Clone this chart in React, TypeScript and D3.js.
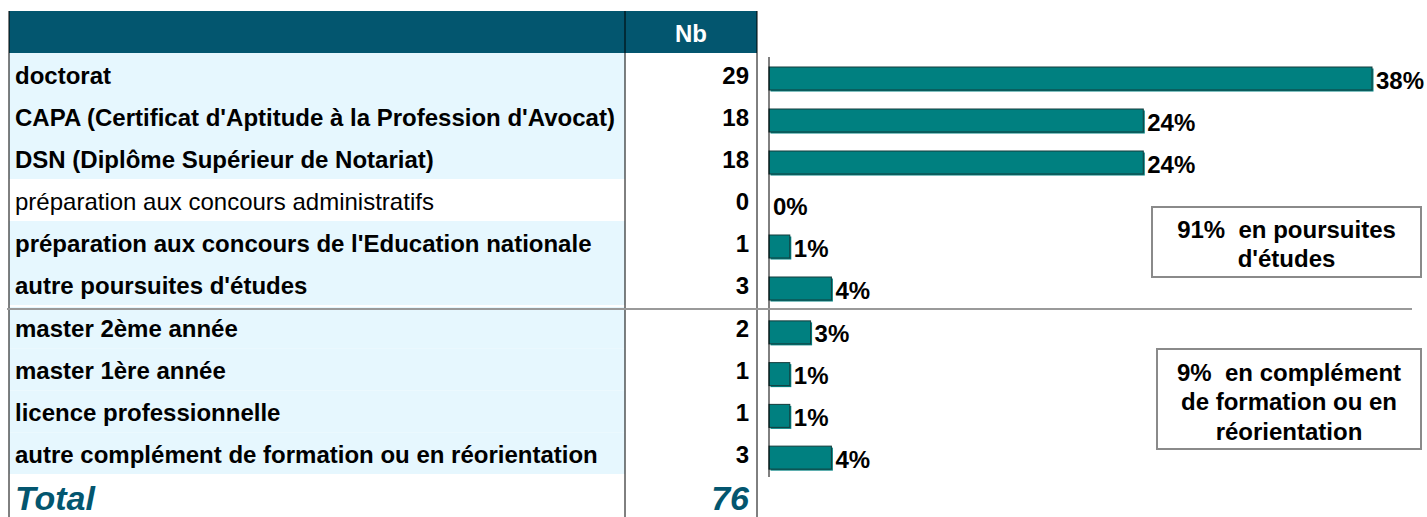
import React from "react";
import * as d3 from "d3";

const categories: string[] = [
  "doctorat",
  "CAPA (Certificat d'Aptitude à la Profession d'Avocat)",
  "DSN (Diplôme Supérieur de Notariat)",
  "préparation aux concours administratifs",
  "préparation aux concours de l'Education nationale",
  "autre poursuites d'études",
  "master 2ème année",
  "master 1ère année",
  "licence professionnelle",
  "autre complément de formation ou en réorientation",
];
const counts: number[] = [29, 18, 18, 0, 1, 3, 2, 1, 1, 3];
const groupOf: number[] = [0, 0, 0, 0, 0, 0, 1, 1, 1, 1];
const boldRow: boolean[] = [true, true, true, false, true, true, true, true, true, true];
const totalLabel = "Total";
const headerLabel = "Nb";
const groupNotes: string[][] = [
  ["91%  en poursuites", "d'études"],
  ["9%  en complément", "de formation ou en", "réorientation"],
];

const W = 1427;
const H = 517;
const FONT = "'Liberation Sans', Arial, sans-serif";
const HEADER = "#03566F";
const LIGHT = "#E6F7FE";
const TEAL = "#008080";
const FS = 24;

export default function App() {
  const total = d3.sum(counts);
  const g0 = categories.map((c, i) => i).filter((i) => groupOf[i] === 0);
  const g1 = categories.map((c, i) => i).filter((i) => groupOf[i] === 1);

  const y0 = d3.scaleBand<number>().domain(g0).range([53, 305]).padding(0);
  const y1 = d3.scaleBand<number>().domain(g1).range([307, 474]).padding(0);
  const yb = (i: number) => (groupOf[i] === 0 ? y0(i)! : y1(i)!);
  const bw = (i: number) => (groupOf[i] === 0 ? y0.bandwidth() : y1.bandwidth());

  const x = d3.scaleLinear().domain([0, 29]).range([769, 1372]);
  const pct = d3.format(".0%");

  const xLeft = 9;
  const xDiv = 625;
  const xRight = 757;

  return (
    <svg width={W} height={H} style={{ position: "absolute", left: 0, top: 0 }} fontFamily={FONT}>
      {/* header */}
      <rect x={xLeft} y={11} width={xRight - xLeft} height={42} fill={HEADER} />
      <text x={(xDiv + xRight) / 2} y={33} fill="#fff" fontWeight="bold" fontSize={FS} textAnchor="middle" dominantBaseline="central">
        {headerLabel}
      </text>

      {/* row backgrounds and labels */}
      {categories.map((c, i) => {
        const top = yb(i);
        const h = bw(i);
        const cy = top + h / 2;
        return (
          <g key={c}>
            {boldRow[i] && <rect x={xLeft} y={top} width={xDiv - xLeft} height={h} fill={LIGHT} />}
            <text x={15} y={cy + 1} fontSize={FS} fontWeight={boldRow[i] ? "bold" : "normal"} dominantBaseline="central" fill="#000">
              {c}
            </text>
            <text x={749} y={cy + 1} fontSize={FS} fontWeight="bold" textAnchor="end" dominantBaseline="central" fill="#000">
              {counts[i]}
            </text>
            {counts[i] > 0 && (
              <>
                <rect x={x(0) + 1.5} y={cy + 4.5 - 11.5 + 1.5} width={x(counts[i]) - x(0)} height={23} fill={TEAL} />
                <rect x={x(0)} y={cy + 4.5 - 11.5} width={x(counts[i]) - x(0)} height={23} fill={TEAL} stroke="#143c3c" strokeWidth={1} />
              </>
            )}
            <text x={x(counts[i]) + 4} y={cy + 6} fontSize={FS} fontWeight="bold" dominantBaseline="central" fill="#000">
              {pct(counts[i] / total)}
            </text>
          </g>
        );
      })}

      {/* total row */}
      <text x={15} y={498} fontSize={34} fontWeight="bold" fontStyle="italic" fill={HEADER} dominantBaseline="central">
        {totalLabel}
      </text>
      <text x={749} y={498} fontSize={34} fontWeight="bold" fontStyle="italic" fill={HEADER} textAnchor="end" dominantBaseline="central">
        {total}
      </text>

      {/* table verticals */}
      <line x1={xLeft} x2={xLeft} y1={11} y2={H} stroke="#000" strokeWidth={1} />
      <line x1={xDiv} x2={xDiv} y1={11} y2={H} stroke="#000" strokeWidth={1} />
      <line x1={xRight} x2={xRight} y1={11} y2={H} stroke="#000" strokeWidth={1} />

      {/* axis line */}
      <line x1={x(0)} x2={x(0)} y1={57} y2={477} stroke="#000" strokeWidth={1} />

      {/* separator */}
      <line x1={7} x2={1412} y1={309} y2={309} stroke="#9a9a9a" strokeWidth={2} />

      {/* notes */}
      {[
        { x: 1152, y: 207, w: 269, h: 70, lines: groupNotes[0], first: 229 },
        { x: 1157, y: 349, w: 264, h: 100, lines: groupNotes[1], first: 372 },
      ].map((b, k) => (
        <g key={k}>
          <rect x={b.x} y={b.y} width={b.w} height={b.h} fill="#fff" stroke="#8a8a8a" strokeWidth={2} />
          {b.lines.map((l, j) => (
            <text key={j} x={b.x + b.w / 2} y={b.first + j * 29.5} fontSize={FS} fontWeight="bold" textAnchor="middle" dominantBaseline="central" fill="#000" style={{ whiteSpace: "pre" }}>
              {l}
            </text>
          ))}
        </g>
      ))}
    </svg>
  );
}
